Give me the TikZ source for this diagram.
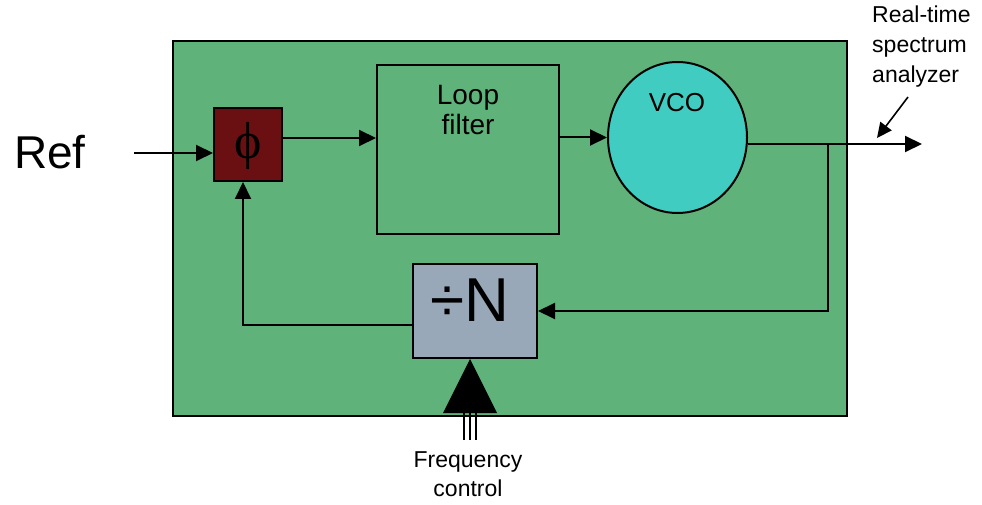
\documentclass[tikz,border=0pt]{standalone}
\usepackage{fontspec}
\setmainfont{Liberation Sans}
\newfontfamily\serifgr{Liberation Serif}
\usetikzlibrary{arrows.meta,shapes.geometric}
\definecolor{boardgreen}{RGB}{95,178,122}
\definecolor{pdred}{RGB}{107,16,18}
\definecolor{vcocyan}{RGB}{64,204,192}
\definecolor{divgray}{RGB}{152,168,184}
\tikzset{
  box/.style={draw=black,line width=2pt,inner sep=0pt},
  conn/.style={line width=2pt,-{Triangle[length=17pt,width=16pt]}},
  wire/.style={line width=2pt},
  lbl/.style={inner sep=0pt,align=center}
}
\begin{document}
\begin{tikzpicture}[x=1pt,y=-1pt]
\useasboundingbox[fill=white] (0,0) rectangle (982,505);
% board
\node[box,fill=boardgreen,minimum width=674pt,minimum height=375pt] (board) at (510,228.5) {};
% blocks
\node[box,fill=pdred,minimum width=68pt,minimum height=73pt] (phase) at (248,144.5) {};
\node[lbl,font=\serifgr\fontsize{52}{52}\selectfont] (phit) at (248,146) {ϕ};
\node[box,minimum width=182pt,minimum height=169pt] (loop) at (468,149.5) {};
\node[lbl,anchor=north,font=\fontsize{28}{30}\selectfont] (loopt) at (468,85) {Loop\\filter};
\node[box,ellipse,fill=vcocyan,minimum width=139pt,minimum height=151pt] (vco) at (677.5,137.5) {};
\node[lbl,font=\fontsize{26}{26}\selectfont] (vcot) at (677,103) {VCO};
\node[box,fill=divgray,minimum width=124pt,minimum height=94pt] (divn) at (475,311) {};
\node[lbl,font=\fontsize{62}{62}\selectfont] (divt) at (470,300) {÷N};
% texts
\node[lbl,font=\fontsize{46}{46}\selectfont] (ref) at (50,152) {Ref};
\node[lbl,anchor=north west,align=left,font=\fontsize{23}{30}\selectfont] (rtsa) at (872,6) {Real-time\\spectrum\\analyzer};
\node[lbl,anchor=north,font=\fontsize{23}{29}\selectfont] (fctl) at (468,451) {Frequency\\control};
% coordinates
\coordinate (refin) at (134,153);
\coordinate (c1) at (0,138);
\coordinate (out) at (922,144);
\coordinate (br) at (828,144);
\coordinate (fb) at (243,325);
\coordinate (fcl) at (443,413);
\coordinate (fcr) at (497,413);
\coordinate (fct) at (470,359);
\coordinate (fcs) at (470,440);
\coordinate (ann) at (908,97);
\coordinate (annt) at (877,138);
% connectors
\draw[conn] (refin) -- (refin -| phase.west);
\draw[conn] (phase.east |- c1) -- (loop.west |- c1);
\draw[conn] (loop.east |- vco.west) -- (vco.west);
\draw[conn] (vco.east |- out) -- (out);
\draw[conn] (br) |- (divn.east);
\draw[conn] (divn.west |- fb) -| (fb |- phase.south);
\draw[line width=1.6pt,-{Triangle[length=15pt,width=14pt]}] (ann) -- (annt);
% frequency control arrow
\fill (fcl) -- (fcr) -- (fct) -- cycle;
\draw[line width=1.3pt] ([xshift=-6pt]fcs) -- ([xshift=-6pt]fcs |- fcl);
\draw[line width=1.3pt] (fcs) -- (fcs |- fcl);
\draw[line width=1.3pt] ([xshift=6pt]fcs) -- ([xshift=6pt]fcs |- fcl);
\end{tikzpicture}
\end{document}
